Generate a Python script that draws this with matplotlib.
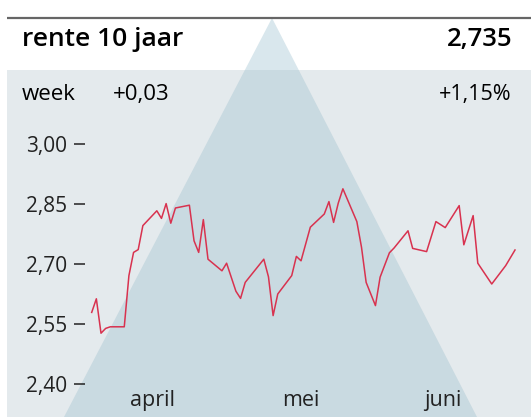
import numpy as np
import matplotlib.pyplot as plt
from matplotlib.patches import Polygon, Rectangle

# dagnummer (0 = 1 april) en rente
dagen = [0, 1, 2, 3, 4, 7, 8, 9, 10, 11, 14, 15, 16, 17, 18, 21, 22, 23, 24, 25,
         28, 29, 31, 32, 33, 37, 38, 39, 40, 43, 44, 45, 47, 50, 51, 52, 53, 54,
         57, 58, 59, 61, 62, 64, 65, 68, 69, 72, 74, 76, 79, 80, 82, 83, 86, 89, 91]
rente = [2.579, 2.613, 2.527, 2.539, 2.543, 2.543, 2.671, 2.729, 2.736, 2.796,
         2.833, 2.814, 2.851, 2.802, 2.840, 2.847, 2.758, 2.729, 2.811, 2.712,
         2.683, 2.702, 2.632, 2.614, 2.654, 2.712, 2.668, 2.571, 2.625, 2.671,
         2.719, 2.708, 2.792, 2.825, 2.856, 2.804, 2.852, 2.888, 2.806, 2.742,
         2.654, 2.596, 2.667, 2.728, 2.740, 2.783, 2.739, 2.731, 2.806, 2.791,
         2.846, 2.748, 2.821, 2.702, 2.650, 2.696, 2.735]

y_ticks = [2.40, 2.55, 2.70, 2.85, 3.00]
y_labels = ['2,40', '2,55', '2,70', '2,85', '3,00']
maanden = ['april', 'mei', 'juni']
maand_pos = [13, 45, 75.5]

W, H = 531, 417
plt.rcParams['font.family'] = ['Open Sans', 'DejaVu Sans']

fig = plt.figure(figsize=(W / 100, H / 100), dpi=100)
fig.patch.set_facecolor('white')

# achtergrond in pixelcoordinaten
bg = fig.add_axes([0, 0, 1, 1])
bg.set_xlim(0, W)
bg.set_ylim(H, 0)
bg.axis('off')
bg.add_patch(Rectangle((7, 70), W - 7, H - 70, color='#e4eaed', lw=0))
apex, base_l, base_r = (272, 18), (64, 417), (477, 417)
# bovenste deel van de driehoek (in witte kop)
t = (70 - 18) / (417 - 18)
l70 = apex[0] + (base_l[0] - apex[0]) * t
r70 = apex[0] + (base_r[0] - apex[0]) * t
bg.add_patch(Polygon([apex, (r70, 70), (l70, 70)], color='#d9e7ed', lw=0))
bg.add_patch(Polygon([(l70, 70), (r70, 70), base_r, base_l], color='#c9dae1', lw=0))
bg.plot([7, W], [17.5, 17.5], color='#666666', lw=1.6, solid_capstyle='butt')

bg.text(22, 39, 'rente 10 jaar', fontsize=19, fontweight='semibold', va='center', ha='left')
bg.text(512, 39, '2,735', fontsize=18.5, fontweight='semibold', va='center', ha='right')
bg.text(22, 94, 'week', fontsize=16, va='center', ha='left')
bg.text(113, 94, '+0,03', fontsize=16, va='center', ha='left')
bg.text(512, 94, '+1,15%', fontsize=15.5, va='center', ha='right')

# grafiek
left, right = 85, 515
px_per_dag = (right - 91.7) / 91
ax = fig.add_axes([left / W, (H - 384) / H, (right - left) / W, 240 / H])
ax.patch.set_alpha(0)
ax.set_xlim(-(91.7 - left) / px_per_dag, 91)
ax.set_ylim(2.40, 3.00)
ax.plot(dagen, rente, color='#d8324f', lw=1.1, clip_on=False)

for s in ax.spines.values():
    s.set_visible(False)
ax.set_yticks(y_ticks)
ax.set_yticklabels(y_labels)
ax.tick_params(axis='y', length=8, width=1.1, color='#222222', pad=5,
               labelsize=15, labelcolor='#222222')
ax.set_xticks(maand_pos)
ax.set_xticklabels(maanden)
ax.tick_params(axis='x', length=0, pad=4.5, labelsize=15.5, labelcolor='#222222')

fig.savefig('out.png', dpi=100)
